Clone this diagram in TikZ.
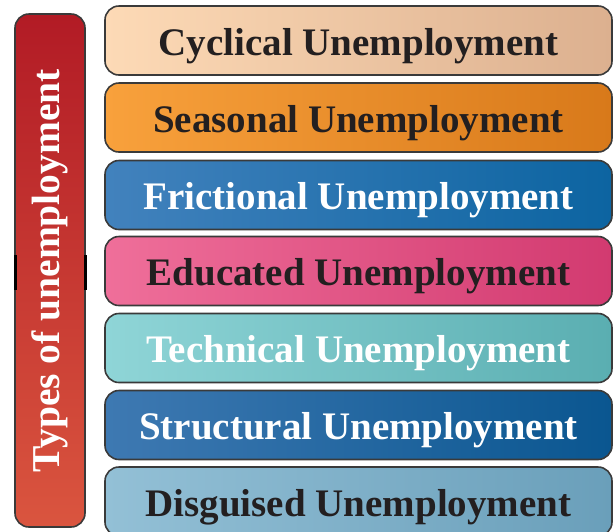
\documentclass[tikz,border=0pt]{standalone}
\usepackage{fontspec}
\setmainfont{Liberation Serif}
\definecolor{ink}{HTML}{231F20}
\definecolor{edge}{HTML}{3A3A3A}
\definecolor{aL}{HTML}{FDDAB6}\definecolor{aR}{HTML}{DCB08F}
\definecolor{bL}{HTML}{F8A13C}\definecolor{bR}{HTML}{D8791A}
\definecolor{cL}{HTML}{4282BD}\definecolor{cR}{HTML}{0C64A1}
\definecolor{dL}{HTML}{EF6F9A}\definecolor{dR}{HTML}{D23A70}
\definecolor{eL}{HTML}{8FD5D7}\definecolor{eR}{HTML}{5AAEB1}
\definecolor{fL}{HTML}{3E79B2}\definecolor{fR}{HTML}{0A5690}
\definecolor{gL}{HTML}{93C0D6}\definecolor{gR}{HTML}{6A9FBA}
\definecolor{rTop}{HTML}{B21B25}\definecolor{rBot}{HTML}{DA553F}
\begin{document}
\begin{tikzpicture}[x=1pt,y=-1pt,
  typebox/.style={draw=edge, line width=1.6pt, rounded corners=14pt,
    minimum width=507pt, minimum height=69pt, inner sep=0pt,
    text height=29pt, text depth=0pt,
    font=\fontsize{39}{42}\selectfont\bfseries},
  darktext/.style={text=ink},
  lighttext/.style={text=white}]
\useasboundingbox (0,0) rectangle (613,531);
\node[draw=edge, line width=1.6pt, rounded corners=14pt,
  minimum width=70pt, minimum height=513pt, inner sep=0pt,
  top color=rTop, bottom color=rBot] (title) at (50,270.5) {};
\node[rotate=90, text=white, inner sep=0pt,
  font=\fontsize{39.5}{42}\selectfont\bfseries] (titletext) at (title.center) {Types of unemployment};
\draw[line width=3pt, black] (15,255) -- (15,290) (85,255) -- (85,290);
\node[typebox, darktext, left color=aL, right color=aR] (b1) at (358.5,40.5) {Cyclical Unemployment};
\node[typebox, darktext, left color=bL, right color=bR] (b2) at (358.5,117.5) {Seasonal Unemployment};
\node[typebox, lighttext, left color=cL, right color=cR] (b3) at (358.5,195) {Frictional Unemployment};
\node[typebox, darktext, left color=dL, right color=dR] (b4) at (358.5,271) {Educated Unemployment};
\node[typebox, lighttext, left color=eL, right color=eR] (b5) at (358.5,348) {Technical Unemployment};
\node[typebox, lighttext, left color=fL, right color=fR] (b6) at (358.5,425) {Structural Unemployment};
\node[typebox, darktext, left color=gL, right color=gR] (b7) at (358.5,501.5) {Disguised Unemployment};
\end{tikzpicture}
\end{document}
